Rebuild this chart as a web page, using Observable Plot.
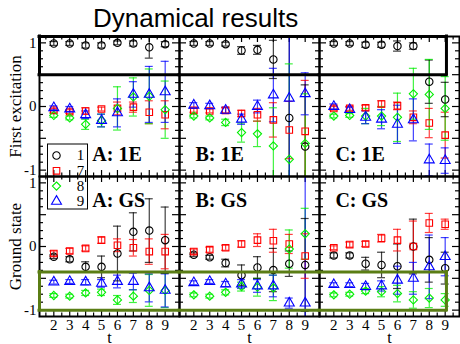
<!DOCTYPE html>
<html><head><meta charset="utf-8">
<script src="https://cdn.jsdelivr.net/npm/d3@7"></script>
<script src="https://cdn.jsdelivr.net/npm/@observablehq/plot@0.6"></script>
<style>
body{margin:0;background:#fff;}
#wrap{position:relative;width:460px;height:344px;overflow:hidden;}
#wrap svg{position:absolute;left:0;top:0;}
#title{position:absolute;left:93px;top:3px;z-index:2;font-family:"Liberation Sans",Arial,sans-serif;font-size:26px;line-height:30px;white-space:nowrap;color:#000;}
</style></head><body>
<div id="wrap"><div id="title">Dynamical results</div></div>
<script>
// ---- data ----
const tValues = [2, 3, 4, 5, 6, 7, 8, 9];
const seriesNames = ["1", "7", "8", "9"];
const seriesColors = ["#000000", "#ff0000", "#00ee00", "#0000ff"];
const seriesSymbols = ["circle", "square", "diamond2", "triangle"];
const columns = ["A", "B", "C"];
const rowKeys = ["1E", "GS"];
const rowTitles = ["First excitation", "Ground state"];
const xTickLabels = ["2", "3", "4", "5", "6", "7", "8", "9"];
const yTickValues = [1, 0, -1];
const yTickLabels = ["1", "0", "-1"];

const A_1E_val = [
  [0.99, 0.99, 0.96, 0.96, 1.00, 0.99, 0.93, 0.98],
  [-0.06, -0.08, -0.07, -0.04, -0.03, -0.01, -0.09, -0.13],
  [-0.14, -0.18, -0.28, -0.22, -0.03, 0.15, 0.16, -0.05],
  [-0.02, -0.04, -0.13, -0.22, -0.10, 0.19, 0.19, 0.23]];
const A_1E_err = [
  [0.03, 0.03, 0.04, 0.04, 0.03, 0.04, 0.17, 0.04],
  [0.03, 0.03, 0.05, 0.03, 0.10, 0.08, 0.18, 0.22],
  [0.03, 0.03, 0.08, 0.10, 0.34, 0.30, 0.43, 0.45],
  [0.03, 0.04, 0.06, 0.10, 0.22, 0.20, 0.44, 0.48]];
const B_1E_val = [
  [0.99, 0.99, 0.98, 0.88, 0.89, 0.74, -0.18, -0.63],
  [-0.06, -0.07, -0.06, -0.11, -0.13, -0.21, -0.37, -0.39],
  [-0.15, -0.18, -0.25, -0.41, -0.43, -0.62, -0.83, -0.58],
  [0.02, 0.01, -0.06, -0.20, 0.00, 0.18, 0.13, 0.20]];
const B_1E_err = [
  [0.03, 0.03, 0.03, 0.06, 0.07, 0.30, 1.60, 0.97],
  [0.03, 0.03, 0.04, 0.05, 0.10, 0.27, 0.45, 0.80],
  [0.03, 0.03, 0.05, 0.15, 0.20, 0.60, 1.50, 0.78],
  [0.04, 0.04, 0.05, 0.08, 0.10, 0.42, 1.60, 0.33]];
const C_1E_val = [
  [0.99, 0.99, 0.97, 0.97, 0.95, 0.95, 0.39, 0.11],
  [-0.03, -0.03, -0.02, 0.04, 0.01, -0.17, -0.26, -0.45],
  [-0.15, -0.14, -0.15, -0.15, -0.17, 0.20, 0.19, -0.03],
  [0.00, -0.05, -0.17, -0.20, -0.28, -0.21, -0.84, -0.85]];
const C_1E_err = [
  [0.03, 0.03, 0.04, 0.04, 0.08, 0.05, 0.34, 0.27],
  [0.03, 0.03, 0.04, 0.05, 0.06, 0.10, 0.23, 0.36],
  [0.03, 0.03, 0.12, 0.15, 0.38, 0.40, 0.55, 0.50],
  [0.04, 0.04, 0.10, 0.15, 0.30, 0.33, 0.25, 0.20]];
const A_GS_val = [
  [-0.16, -0.20, -0.32, -0.32, -0.11, 0.23, 0.25, 0.10],
  [-0.11, -0.07, -0.03, 0.10, 0.02, -0.02, -0.08, -0.08],
  [-0.77, -0.78, -0.73, -0.72, -0.84, -0.78, -0.69, -0.69],
  [-0.56, -0.55, -0.56, -0.58, -0.55, -0.55, -0.65, -0.69]];
const A_GS_err = [
  [0.03, 0.04, 0.08, 0.17, 0.43, 0.30, 0.50, 0.52],
  [0.04, 0.04, 0.04, 0.05, 0.10, 0.13, 0.20, 0.27],
  [0.03, 0.03, 0.04, 0.05, 0.07, 0.10, 0.25, 0.27],
  [0.03, 0.03, 0.04, 0.06, 0.10, 0.13, 0.22, 0.26]];
const B_GS_val = [
  [-0.13, -0.17, -0.26, -0.45, -0.33, -0.37, -0.27, -0.29],
  [-0.08, -0.05, -0.02, 0.04, 0.10, 0.09, 0.04, -0.15],
  [-0.76, -0.78, -0.72, -0.63, -0.64, -0.65, -0.04, 0.20],
  [-0.57, -0.55, -0.59, -0.59, -0.62, -0.62, -0.89, -0.89]];
const B_GS_err = [
  [0.03, 0.03, 0.06, 0.16, 0.17, 0.34, 0.20, 0.73],
  [0.04, 0.04, 0.04, 0.05, 0.10, 0.18, 0.15, 0.35],
  [0.03, 0.03, 0.04, 0.07, 0.14, 0.20, 0.30, 0.40],
  [0.03, 0.03, 0.04, 0.07, 0.10, 0.17, 0.08, 2.00]];
const C_GS_val = [
  [-0.14, -0.14, -0.27, -0.29, -0.31, 0.00, -0.21, -0.34],
  [-0.02, 0.03, 0.04, 0.13, 0.10, 0.00, 0.37, 0.35],
  [-0.76, -0.75, -0.70, -0.71, -0.74, -0.84, -0.81, -0.84],
  [-0.60, -0.60, -0.63, -0.62, -0.53, -0.50, -0.32, -0.16]];
const C_GS_err = [
  [0.04, 0.04, 0.10, 0.20, 0.35, 0.43, 0.35, 0.25],
  [0.03, 0.04, 0.04, 0.06, 0.17, 0.40, 0.15, 0.08],
  [0.03, 0.03, 0.04, 0.08, 0.13, 0.13, 0.15, 0.10],
  [0.03, 0.03, 0.05, 0.08, 0.22, 0.25, 0.50, 0.30]];

const xMajorTicks = [2, 3, 4, 5, 6, 7, 8, 9];
const xMinorTicks = [1.5, 2.5, 3.5, 4.5, 5.5, 6.5, 7.5, 8.5, 9.5];
const yMajorTicks = [-1, -0.5, 0, 0.5, 1];
const yMinorTicks = [-0.875, -0.75, -0.625, -0.375, -0.25, -0.125, 0.125, 0.25, 0.375, 0.625, 0.75, 0.875];

// ---- layout ----
const W = 460, H = 344, mT = 36, mB = 28, mL = 39, mR = 1;
const PW = (W - mL - mR) / 3, PH = (H - mT - mB) / 2;
const xDomain = [1.1, 9.9], yDomain = [-1.1, 1.1];
const serifFont = "'Liberation Serif','Times New Roman',Times,serif";

// ---- table ----
const panels = {
  A: {"1E": [A_1E_val, A_1E_err], GS: [A_GS_val, A_GS_err]},
  B: {"1E": [B_1E_val, B_1E_err], GS: [B_GS_val, B_GS_err]},
  C: {"1E": [C_1E_val, C_1E_err], GS: [C_GS_val, C_GS_err]}
};
const rows = [];
for (const c of columns) for (const r of rowKeys) {
  const [vals, errs] = panels[c][r];
  seriesNames.forEach((s, si) => tValues.forEach((t, ti) => {
    rows.push({fx: c, fy: r, s, t, v: vals[si][ti], e: errs[si][ti]});
  }));
}

// ---- ticks ----
const tickStyle = {stroke: "black", strokeWidth: 1.2};
const tickMarks = [
  Plot.ruleX(xMajorTicks, {...tickStyle, insetTop: PH - 6}),
  Plot.ruleX(xMajorTicks, {...tickStyle, insetBottom: PH - 6}),
  Plot.ruleX(xMinorTicks, {...tickStyle, insetTop: PH - 3.5}),
  Plot.ruleX(xMinorTicks, {...tickStyle, insetBottom: PH - 3.5}),
  Plot.ruleY(yMajorTicks, {...tickStyle, insetRight: PW - 7}),
  Plot.ruleY(yMajorTicks, {...tickStyle, insetLeft: PW - 7}),
  Plot.ruleY(yMinorTicks, {...tickStyle, insetRight: PW - 4}),
  Plot.ruleY(yMinorTicks, {...tickStyle, insetLeft: PW - 4})
];

// ---- highlight boxes ----
function boxMarks(row, yLo, yHi, tEnd, color, w) {
  const edges = columns.map(c => ({fx: c, fy: row, x1: xDomain[0], x2: c === "C" ? tEnd : xDomain[1]}));
  const st = {stroke: color, strokeWidth: w, strokeLinecap: "square", fx: "fx", fy: "fy"};
  return [
    Plot.ruleY(edges, {...st, x1: "x1", x2: "x2", y: () => yLo}),
    Plot.ruleY(edges, {...st, x1: "x1", x2: "x2", y: () => yHi}),
    Plot.ruleX([{fx: "A", fy: row}], {...st, x: () => xDomain[0], y1: () => yLo, y2: () => yHi}),
    Plot.ruleX([{fx: "C", fy: row}], {...st, x: () => tEnd, y1: () => yLo, y2: () => yHi})
  ];
}

// ---- labels ----
const yLabelRows = [];
rowKeys.forEach(r => yTickValues.forEach((v, i) => yLabelRows.push({fx: "A", fy: r, y: v, label: yTickLabels[i]})));
const xLabelRows = [];
columns.forEach(c => tValues.forEach((t, i) => xLabelRows.push({fx: c, fy: "GS", x: t, label: xTickLabels[i]})));
const panelLabelRows = [];
rowKeys.forEach(r => columns.forEach(c => panelLabelRows.push({fx: c, fy: r, label: `${c}: ${r}`})));
const rowTitleRows = rowKeys.map((r, i) => ({fx: "A", fy: r, label: rowTitles[i]}));

// legend marks
const legendMarks = [
  Plot.rect([{fx: "A", fy: "1E"}], {fx: "fx", fy: "fy", insetLeft: 8.5, insetRight: PW - 48.5, insetTop: 108, insetBottom: -33, fill: "none", stroke: "black", strokeWidth: 1})
];
seriesNames.forEach((s, i) => {
  const d = [{fx: "A", fy: "1E", s}];
  legendMarks.push(Plot.dot(d, {fx: "fx", fy: "fy", frameAnchor: "bottom-left", dx: 17, dy: -21 + 15.3 * i, symbol: "s", stroke: "s", fill: "none", r: 3.7, strokeWidth: 1.1}));
  legendMarks.push(Plot.text(d, {fx: "fx", fy: "fy", frameAnchor: "bottom-left", dx: 41, dy: -21 + 15.3 * i, text: "s", fontSize: 15, fontFamily: serifFont, textAnchor: "middle", lineAnchor: "middle"}));
});

const plot = Plot.plot({
  width: W, height: H,
  marginTop: mT, marginBottom: mB, marginLeft: mL, marginRight: mR,
  style: {fontFamily: serifFont, fontSize: "15px", background: "transparent", overflow: "visible", color: "black"},
  x: {domain: xDomain, axis: null},
  y: {domain: yDomain, axis: null},
  fx: {domain: columns, padding: 0, axis: null},
  fy: {domain: rowKeys, padding: 0, axis: null},
  color: {domain: seriesNames, range: seriesColors},
  symbol: {domain: seriesNames, range: seriesSymbols},
  marks: [
    ...tickMarks,
    Plot.ruleX(rows, {fx: "fx", fy: "fy", x: "t", y1: d => d.v - d.e, y2: d => d.v + d.e, stroke: "s", strokeWidth: 1.2, strokeOpacity: 0.75, clip: true}),
    Plot.ruleY(rows, {fx: "fx", fy: "fy", y: d => d.v + d.e, x1: d => d.t - 0.25, x2: d => d.t + 0.25, stroke: "s", strokeWidth: 1.2, strokeOpacity: 0.75, clip: true}),
    Plot.ruleY(rows, {fx: "fx", fy: "fy", y: d => d.v - d.e, x1: d => d.t - 0.25, x2: d => d.t + 0.25, stroke: "s", strokeWidth: 1.2, strokeOpacity: 0.75, clip: true}),
    Plot.dot(rows, {fx: "fx", fy: "fy", x: "t", y: "v", symbol: "s", stroke: "s", fill: "none", r: 3.7, strokeWidth: 1.1}),
    Plot.frame({stroke: "black", strokeWidth: 2}),
    ...boxMarks("1E", 0.5, 1.1, 9.08, "#000000", 3),
    ...boxMarks("GS", -1.0, -0.4, 9.08, "#5a7d14", 3),
    ...legendMarks,
    Plot.text(yLabelRows, {fx: "fx", fy: "fy", y: "y", text: "label", frameAnchor: "left", dx: -3, textAnchor: "end", lineAnchor: "middle", fontSize: 15, fontFamily: serifFont}),
    Plot.text(xLabelRows, {fx: "fx", fy: "fy", x: "x", text: "label", frameAnchor: "bottom", lineAnchor: "top", dy: 2.6, fontSize: 15, fontFamily: serifFont}),
    Plot.text(columns.map(c => ({fx: c, fy: "GS"})), {fx: "fx", fy: "fy", text: () => "t", frameAnchor: "bottom", lineAnchor: "bottom", dy: 26, fontSize: 16, fontFamily: serifFont}),
    Plot.text(panelLabelRows.filter(d => d.fy === "1E"), {fx: "fx", fy: "fy", x: d => d.fx === "A" ? 4.42 : 2.1, text: "label", frameAnchor: "bottom", lineAnchor: "bottom", dy: -16, textAnchor: "start", fontWeight: "bold", fontSize: 20, fontFamily: serifFont}),
    Plot.text(panelLabelRows.filter(d => d.fy === "GS"), {fx: "fx", fy: "fy", x: d => d.fx === "A" ? 4.42 : 2.1, text: "label", frameAnchor: "top", lineAnchor: "bottom", dy: 30, textAnchor: "start", fontWeight: "bold", fontSize: 20, fontFamily: serifFont}),
    Plot.text(rowTitleRows, {fx: "fx", fy: "fy", text: "label", frameAnchor: "left", dx: -24, rotate: -90, textAnchor: "middle", lineAnchor: "middle", fontSize: 17, fontFamily: serifFont})
  ]
});
document.getElementById("wrap").appendChild(plot);
</script>
</body></html>
